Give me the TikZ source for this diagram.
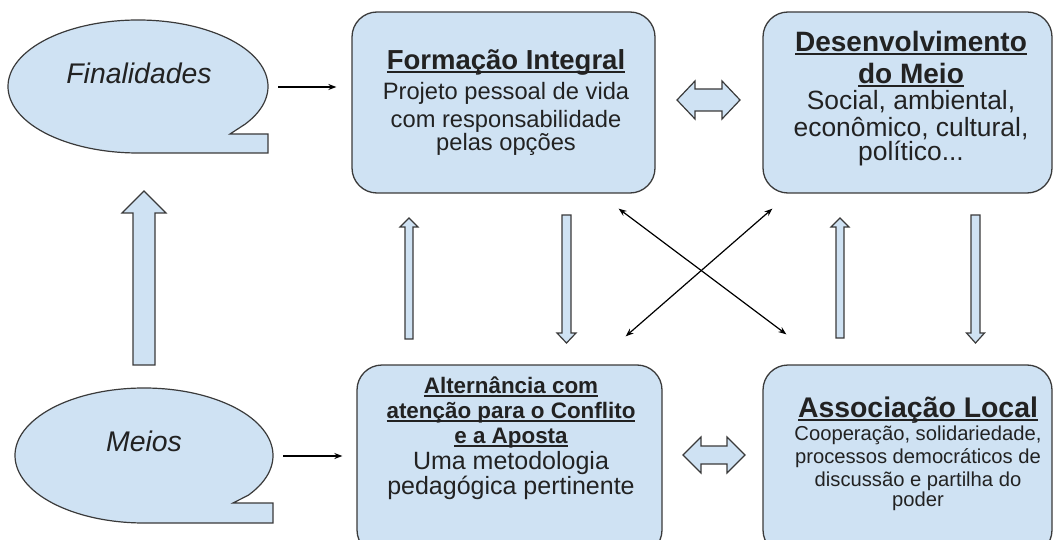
\documentclass[tikz,border=0pt]{standalone}
\usepackage{fontspec}
\setmainfont{Liberation Sans}
\usetikzlibrary{arrows.meta,calc}

\definecolor{boxblue}{HTML}{CFE2F3}
\definecolor{edgegray}{HTML}{3A3A3A}
\definecolor{textgray}{HTML}{222222}

\setlength{\parindent}{0pt}
\setlength{\parskip}{0pt}

\newsavebox\ulinebox
\newcommand{\ulhead}[1]{\leavevmode\sbox\ulinebox{\bfseries #1}\rlap{\rule[-0.12em]{\wd\ulinebox}{0.075em}}\usebox\ulinebox}
\newcommand{\fsize}[2]{\fontsize{#1}{#2}\selectfont}

\begin{document}
\begin{tikzpicture}[x=1pt,y=-1pt,
		box/.style={draw=edgegray,fill=boxblue,line width=1.3pt,rounded corners=25pt,inner sep=0pt},
		boxtext/.style={text=textgray,align=flush center,inner sep=0pt},
		calltext/.style={text=textgray,inner sep=0pt,font=\fsize{28.4}{30}\itshape},
		callout/.style={draw=edgegray,fill=boxblue,line width=1.2pt},
		blockarrow/.style={draw=edgegray,fill=boxblue,line width=1.2pt,line join=miter},
		thinarrow/.style={-{Stealth[length=8pt,width=6pt]},line width=1.2pt},
		xarrow/.style={{Stealth[length=8pt,width=6pt]}-{Stealth[length=8pt,width=6pt]},line width=1.2pt}]
	\useasboundingbox (0,0) rectangle (1057,540);
	\clip (0,0) rectangle (1057,540);

	% callouts
	\coordinate (finc) at (138,86.5);
	\path[callout] (finc) ++(34.4:130 and 66.5)
		arc[start angle=34.4, end angle=-270, x radius=130, y radius=66.5]
		-- (268,153) -- (268,134) -- (230,134) -- cycle;
	\node[calltext] (fin) at (139,73) {Finalidades};

	\coordinate (mec) at (144,455.5);
	\path[callout] (mec) ++(36:129 and 67.5)
		arc[start angle=36, end angle=-270, x radius=129, y radius=67.5]
		-- (273,523) -- (273,503) -- (233,503) -- cycle;
	\node[calltext] (me) at (144,441) {Meios};

	% boxes
	\node[box, minimum width=303pt, minimum height=181pt] (fi) at (503.5,102.5) {};
	\node[box, minimum width=289pt, minimum height=181pt] (dm) at (907.5,102.5) {};
	\node[box, minimum width=305pt, minimum height=190pt] (ac) at (509.5,460) {};
	\node[box, minimum width=289pt, minimum height=190pt] (al) at (907.5,460) {};

	\node[boxtext, text width=300pt] (fitext) at (506,103) {%
		{\fsize{27.5}{32}\ulhead{Formação Integral}\par}\vspace{2pt}
		\fsize{23.7}{28}Projeto pessoal de vida\\com responsabilidade\\pelas opções};
	\node[boxtext, text width=285pt] (dmtext) at (911,98.5) {%
		{\fsize{28}{32}\ulhead{Desenvolvimento}\\\ulhead{do Meio}\par}
		\fsize{26.4}{26.5}Social, ambiental,\\econômico, cultural,\\político...};
	\node[boxtext, text width=300pt] (actext) at (511,438.5) {%
		{\fsize{22.4}{25}\ulhead{Alternância com}\\\ulhead{atenção para o Conflito}\\\ulhead{e a Aposta}\par}
		\fsize{25}{26}Uma metodologia\\pedagógica pertinente};
	\node[boxtext, text width=285pt] (altext) at (918,453.5) {%
		{\fsize{28.4}{32}\ulhead{Associação Local}\par}
		\fsize{20.2}{23}Cooperação, solidariedade,\\processos democráticos de\\discussão e partilha do\\poder};

	% block arrows
	\draw[blockarrow] (133,365) -- (133,213) -- (122,213) -- (144,191) -- (166,213) -- (155,213) -- (155,365) -- cycle;
	\draw[blockarrow] (405,339) -- (405,227) -- (400,227) -- (409,218) -- (418,227) -- (413,227) -- (413,339) -- cycle;
	\draw[blockarrow] (562,215) -- (562,333) -- (557,333) -- (566.5,343) -- (576,333) -- (571,333) -- (571,215) -- cycle;
	\draw[blockarrow] (836,338) -- (836,227) -- (831,227) -- (840,218) -- (849,227) -- (844,227) -- (844,338) -- cycle;
	\draw[blockarrow] (971,215) -- (971,333) -- (966.5,333) -- (975.5,343) -- (984.5,333) -- (980,333) -- (980,215) -- cycle;
	\draw[blockarrow] (677,100) -- (695,81) -- (695,89) -- (722,89) -- (722,81) -- (740,100)
		-- (722,119) -- (722,111) -- (695,111) -- (695,119) -- cycle;
	\draw[blockarrow] (683,455) -- (701,437) -- (701,446) -- (727,446) -- (727,437) -- (745,455)
		-- (727,473) -- (727,464) -- (701,464) -- (701,473) -- cycle;

	% connectors
	\coordinate (finout) at (278,87);
	\draw[thinarrow, shorten >=15pt] (finout) -- (finout -| fi.west);
	\coordinate (meout) at (283,456);
	\draw[thinarrow, shorten >=14pt] (meout) -- (meout -| ac.west);
	\draw[xarrow] ([shift={(-37,15)}]fi.south east) -- ([shift={(24,-30)}]al.north west);
	\draw[xarrow] ([shift={(10,15)}]dm.south west) -- ([shift={(-37,-28)}]ac.north east);
\end{tikzpicture}
\end{document}
